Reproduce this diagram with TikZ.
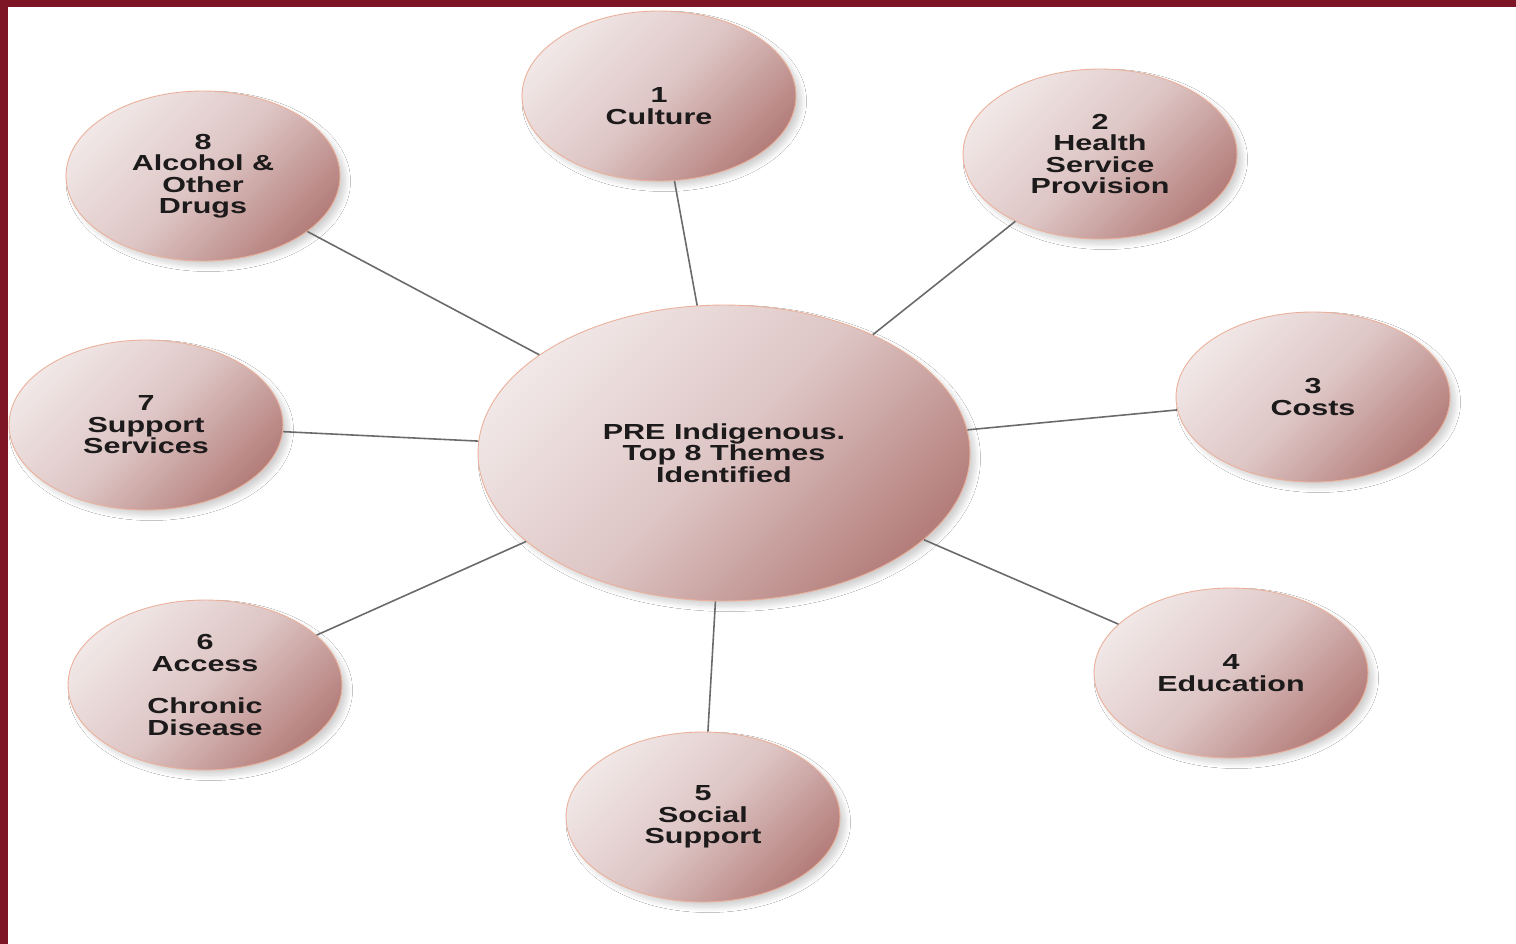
\documentclass[tikz,border=0pt]{standalone}
\usepackage{fontspec}
\newfontfamily\themefont[FakeStretch=1.4]{Liberation Sans}
\usetikzlibrary{shapes.geometric,shadows.blur}
\definecolor{frameRed}{HTML}{7E1526}
\definecolor{roseLight}{HTML}{F1E7E7}
\definecolor{roseMid}{HTML}{DDC5C4}
\definecolor{roseDark}{HTML}{B47E7B}
\definecolor{roseRim}{HTML}{EBB09A}
\definecolor{spokeGray}{HTML}{6A6A6A}
\definecolor{textInk}{HTML}{1C1A1A}

\begin{document}
\begin{tikzpicture}
[x=0.02cm,y=-0.02cm,
  themeNode/.style={shape=ellipse,inner sep=0pt,minimum width=5.48cm,minimum height=3.4cm,%
    top color=roseLight,bottom color=roseDark,middle color=roseMid,shading angle=45,%
    draw=roseRim,line width=0.5pt,%
    blur shadow={shadow xshift=3pt,shadow yshift=-3pt,shadow blur radius=3pt,%
      shadow blur steps=8,shadow opacity=18},%
    align=center,text=textInk,font=\themefont\bfseries\fontsize{12.4}{12.2}\selectfont},%
  hubNode/.style={themeNode,minimum width=9.84cm,minimum height=5.92cm},%
  spoke/.style={draw=spokeGray,line width=0.9pt}]
%% page and frame
\useasboundingbox (0,0) rectangle (1516,944);
\fill[white] (0,0) rectangle (1516,944);
\fill[frameRed] (0,0) rectangle (8,944);
\fill[frameRed] (0,0) rectangle (1516,7);
%% centre
\node (hub) at (724,453) [hubNode] {PRE Indigenous.\\Top 8 Themes\\Identified};
%% themes
\foreach \nodename/\x/\y/\lbl in {c1/659/96/{\mbox{}\\[8pt]1\\Culture},
  c2/1100/154/{2\\Health\\Service\\Provision}, c3/1313/397/{3\\Costs},
  c4/1231/673/{4\\Education}, c5/703/817/{5\\Social\\Support},
  c6/205/685/{6\\Access\\\mbox{}\\Chronic\\Disease},
  c7/146/425/{7\\Support\\Services}, c8/203/176/{8\\Alcohol \&\\Other\\Drugs}}
{
  \node (\nodename) at (\x,\y) [themeNode] {\lbl};
}
%% spokes
\path
\foreach \endnode in {c1,c2,c3,c4,c5,c6,c7,c8}
{
  (hub) edge[spoke] (\endnode)
};
\end{tikzpicture}
\end{document}
